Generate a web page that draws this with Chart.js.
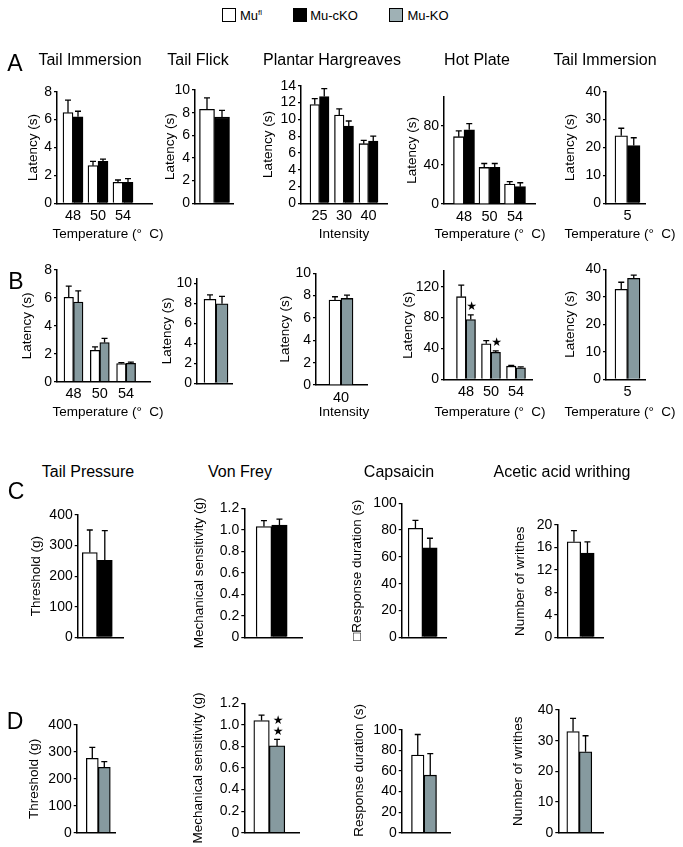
<!DOCTYPE html>
<html>
<head>
<meta charset="utf-8">
<script src="https://cdn.jsdelivr.net/npm/chart.js@4.4.1/dist/chart.umd.min.js"></script>
<style>
  body { margin: 0; background: #fff; font-family: 'Liberation Sans', Arial, sans-serif; }
  #fig { position: relative; width: 683px; height: 847px; overflow: hidden; }
  canvas { position: absolute; }
  .t { position: absolute; white-space: pre; color: #000; transform: translate(-50%, -50%); line-height: 1; }
  .box { position: absolute; width: 14px; height: 14px; box-sizing: border-box; border: 1.3px solid #000; }
</style>
</head>
<body>
<div id="fig"></div>
<script>
// series
const seriesNames = ['Mu', 'Mu-cKO', 'Mu-KO'];
const seriesColors = ['#ffffff', '#000000', '#869a9f'];

// category / tick labels
const tempCats = ['48', '50', '54'];
const intensityCats = ['25', '30', '40'];
const oneTemp = ['5'];
const oneIntensity = ['40'];
const noCat = [''];
const ticks8 = [0, 2, 4, 6, 8];
const ticks10 = [0, 2, 4, 6, 8, 10];
const ticks14 = [0, 2, 4, 6, 8, 10, 12, 14];
const hotTicksA = [0, 40, 80];
const hotTicksB = [0, 40, 80, 120];
const ticks40 = [0, 10, 20, 30, 40];
const ticks400 = [0, 100, 200, 300, 400];
const vfTicks = [0, 0.2, 0.4, 0.6, 0.8, 1.0, 1.2];
const ticks100 = [0, 20, 40, 60, 80, 100];
const writheTicksC = [0, 4, 8, 12, 16, 20];

// A: Mu-fl vs Mu-cKO
const tailImmA_fl = [6.5, 2.7, 1.5];
const tailImmA_flErr = [0.9, 0.3, 0.17];
const tailImmA_cko = [6.2, 3.0, 1.5];
const tailImmA_ckoErr = [0.4, 0.17, 0.27];
const flickA_fl = [8.3];
const flickA_flErr = [1.0];
const flickA_cko = [7.6];
const flickA_ckoErr = [0.6];
const plantarA_fl = [11.75, 10.5, 7.1];
const plantarA_flErr = [0.7, 0.75, 0.4];
const plantarA_cko = [12.7, 9.2, 7.4];
const plantarA_ckoErr = [0.95, 0.6, 0.6];
const hotA_fl = [69, 37.5, 20.5];
const hotA_flErr = [6, 4, 2.4];
const hotA_cko = [76, 37.5, 17.8];
const hotA_ckoErr = [6.5, 4, 4];
const imm5A_fl = [24.2];
const imm5A_flErr = [2.7];
const imm5A_cko = [20.7];
const imm5A_ckoErr = [2.8];

// B: Mu-fl vs Mu-KO
const tailImmB_fl = [6.05, 2.25, 1.3];
const tailImmB_flErr = [0.8, 0.25, 0.07];
const tailImmB_ko = [5.7, 2.8, 1.32];
const tailImmB_koErr = [0.8, 0.3, 0.08];
const flickB_fl = [8.4];
const flickB_flErr = [0.45];
const flickB_ko = [7.95];
const flickB_koErr = [0.75];
const plantarB_fl = [7.6];
const plantarB_flErr = [0.3];
const plantarB_ko = [7.75];
const plantarB_koErr = [0.3];
const hotB_fl = [107, 46, 17];
const hotB_flErr = [15, 4, 1];
const hotB_ko = [77.5, 35, 15];
const hotB_koErr = [6, 1.7, 1];
const hotB_koStars = [1, 1, 0];
const imm5B_fl = [32.7];
const imm5B_flErr = [2.6];
const imm5B_ko = [36.7];
const imm5B_koErr = [1.2];

// C: Mu-fl vs Mu-cKO
const pressC_fl = [277];
const pressC_flErr = [74];
const pressC_cko = [252];
const pressC_ckoErr = [97];
const vfC_fl = [1.03];
const vfC_flErr = [0.055];
const vfC_cko = [1.045];
const vfC_ckoErr = [0.055];
const capsC_fl = [81.3];
const capsC_flErr = [6];
const capsC_cko = [66.7];
const capsC_ckoErr = [7.2];
const writheC_fl = [17];
const writheC_flErr = [2];
const writheC_cko = [15];
const writheC_ckoErr = [2];

// D: Mu-fl vs Mu-KO
const pressD_fl = [276];
const pressD_flErr = [41];
const pressD_ko = [243];
const pressD_koErr = [21];
const vfD_fl = [1.04];
const vfD_flErr = [0.05];
const vfD_ko = [0.805];
const vfD_koErr = [0.06];
const vfD_koStars = [2];
const capsD_fl = [75.6];
const capsD_flErr = [20];
const capsD_ko = [56];
const capsD_koErr = [21];
const writheD_fl = [33];
const writheD_flErr = [4.3];
const writheD_ko = [26.4];
const writheD_koErr = [5.2];

const LAT = 'Latency (s)';
// g: [axisX, axisRight, topY, zeroY, firstGroupX, groupSpacing, barWidth, yTitleOffset, yTitleDy]
const panels = [
  { cats: tempCats, sets: [[tailImmA_fl, tailImmA_flErr, 0], [tailImmA_cko, tailImmA_ckoErr, 1]], yMax: 8, yTicks: ticks8, yTitle: LAT, g: [57, 152, 91.7, 203.3, 73, 25, 10, 24] },
  { cats: noCat, sets: [[flickA_fl, flickA_flErr, 0], [flickA_cko, flickA_ckoErr, 1]], yMax: 10, yTicks: ticks10, yTitle: LAT, g: [195, 233, 90, 203.3, 214.5, 20, 15, 25] },
  { cats: intensityCats, sets: [[plantarA_fl, plantarA_flErr, 0], [plantarA_cko, plantarA_ckoErr, 1]], yMax: 14, yTicks: ticks14, yTitle: LAT, g: [301, 387, 85.7, 203.3, 319.5, 24.5, 9.5, 33] },
  { cats: tempCats, sets: [[hotA_fl, hotA_flErr, 0], [hotA_cko, hotA_ckoErr, 1]], yMax: 110, yTicks: hotTicksA, yTitle: LAT, g: [444, 535, 96.7, 204, 464, 25.5, 10.5, 32] },
  { cats: oneTemp, sets: [[imm5A_fl, imm5A_flErr, 0], [imm5A_cko, imm5A_ckoErr, 1]], yMax: 40, yTicks: ticks40, yTitle: LAT, g: [606, 645, 91.7, 203.3, 627.5, 20, 12.5, 36] },

  { cats: tempCats, sets: [[tailImmB_fl, tailImmB_flErr, 0], [tailImmB_ko, tailImmB_koErr, 2]], yMax: 8, yTicks: ticks8, yTitle: LAT, g: [57, 150, 270, 381.7, 73.5, 26.3, 9.5, 30] },
  { cats: noCat, sets: [[flickB_fl, flickB_flErr, 0], [flickB_ko, flickB_koErr, 2]], yMax: 10.5, yTicks: ticks10, yTitle: LAT, g: [197, 232, 278.3, 383.3, 216, 20, 12, 30] },
  { cats: oneIntensity, sets: [[plantarB_fl, plantarB_flErr, 0], [plantarB_ko, plantarB_koErr, 2]], yMax: 10, yTicks: ticks10, yTitle: LAT, g: [316, 367, 273.3, 385, 341, 20, 12, 31] },
  { cats: tempCats, sets: [[hotB_fl, hotB_flErr, 0], [hotB_ko, hotB_koErr, 2, hotB_koStars]], yMax: 140, yTicks: hotTicksB, yTitle: LAT, g: [444, 532, 271.2, 379.3, 466, 25, 9.5, 36] },
  { cats: oneTemp, sets: [[imm5B_fl, imm5B_flErr, 0], [imm5B_ko, imm5B_koErr, 2]], yMax: 40, yTicks: ticks40, yTitle: LAT, g: [606, 645, 269.3, 379.3, 627.5, 20, 12.5, 36] },

  { cats: noCat, sets: [[pressC_fl, pressC_flErr, 0], [pressC_cko, pressC_ckoErr, 1]], yMax: 400, yTicks: ticks400, yTitle: 'Threshold (g)', g: [77.7, 123.3, 515, 637.3, 97.3, 20, 15, 41] },
  { cats: noCat, sets: [[vfC_fl, vfC_flErr, 0], [vfC_cko, vfC_ckoErr, 1]], yMax: 1.2, yTicks: vfTicks, dec: 1, yTitle: 'Mechanical sensitivity (g)', g: [244.3, 302, 508.3, 637.3, 271.7, 20, 15.5, 45] },
  { cats: noCat, sets: [[capsC_fl, capsC_flErr, 0], [capsC_cko, capsC_ckoErr, 1]], yMax: 100, yTicks: ticks100, yTitle: '\u25a1Response duration (s)', g: [401.7, 446, 503.3, 637.3, 422.7, 20, 14.5, 44] },
  { cats: noCat, sets: [[writheC_fl, writheC_flErr, 0], [writheC_cko, writheC_ckoErr, 1]], yMax: 20, yTicks: writheTicksC, yTitle: 'Number of writhes', g: [557.3, 603.3, 525, 637.3, 580.7, 20, 13.5, 37] },

  { cats: noCat, sets: [[pressD_fl, pressD_flErr, 0], [pressD_ko, pressD_koErr, 2]], yMax: 400, yTicks: ticks400, yTitle: 'Threshold (g)', g: [76.7, 115, 725, 832.7, 98.3, 20, 12, 42] },
  { cats: noCat, sets: [[vfD_fl, vfD_flErr, 0], [vfD_ko, vfD_koErr, 2, vfD_koStars]], yMax: 1.2, yTicks: vfTicks, dec: 1, yTitle: 'Mechanical sensitivity (g)', g: [244.3, 299.3, 703.3, 832.7, 269.3, 20, 15.5, 46] },
  { cats: noCat, sets: [[capsD_fl, capsD_flErr, 0], [capsD_ko, capsD_koErr, 2]], yMax: 100, yTicks: ticks100, yTitle: 'Response duration (s)', g: [401.7, 450, 730, 832.7, 424, 20, 12.5, 42, -11] },
  { cats: noCat, sets: [[writheD_fl, writheD_flErr, 0], [writheD_ko, writheD_koErr, 2]], yMax: 40, yTicks: ticks40, yTitle: 'Number of writhes', g: [558.3, 603.3, 710, 832.7, 579.3, 20, 12.5, 40] },
];

const FONT = "'Liberation Sans', Arial, sans-serif";
Chart.defaults.font.family = FONT;
Chart.defaults.color = '#000';

const fig = document.getElementById('fig');

function txt(s, x, y, size) {
  const d = document.createElement('div');
  d.className = 't';
  d.textContent = s;
  d.style.left = x + 'px';
  d.style.top = y + 'px';
  d.style.fontSize = size + 'px';
  fig.appendChild(d);
  return d;
}

// error bars, stars and y titles
const extras = {
  id: 'extras',
  afterDatasetsDraw(chart) {
    const { ctx } = chart;
    const y = chart.scales.y;
    ctx.save();
    ctx.strokeStyle = '#000';
    ctx.fillStyle = '#000';
    ctx.lineWidth = 1.3;
    chart.data.datasets.forEach((ds, di) => {
      chart.getDatasetMeta(di).data.forEach((bar, i) => {
        const top = y.getPixelForValue(ds.data[i].y + ds.errs[i]);
        ctx.beginPath();
        ctx.moveTo(bar.x, bar.y);
        ctx.lineTo(bar.x, top);
        ctx.moveTo(bar.x - 3, top);
        ctx.lineTo(bar.x + 3, top);
        ctx.stroke();
        const n = ds.stars ? ds.stars[i] : 0;
        ctx.font = '12px "DejaVu Sans"';
        ctx.textAlign = 'center';
        ctx.textBaseline = 'middle';
        for (let k = 0; k < n; k++) ctx.fillText('\u2605', bar.x + 1, top - 8 - k * 11);
      });
    });
    ctx.restore();
  },
  afterDraw(chart, args, opts) {
    const { ctx, chartArea } = chart;
    ctx.save();
    ctx.translate(chartArea.left - opts.off, (chartArea.top + chartArea.bottom) / 2 + (opts.dy || 0));
    ctx.rotate(-Math.PI / 2);
    ctx.font = '13.5px ' + FONT;
    ctx.fillStyle = '#000';
    ctx.textAlign = 'center';
    ctx.textBaseline = 'middle';
    ctx.fillText(opts.text, 0, 0);
    ctx.restore();
  }
};

panels.forEach(p => {
  const [ax, rx, ty, by, c0, sp, bw, yoff, ydy] = p.g;
  const left = Math.floor(ax - (yoff + 12));
  const top = Math.floor(ty - 28);
  const YW = ax - left;
  const PT = ty - top;
  const w = Math.ceil(YW + (rx - ax) + 4);
  const h = Math.ceil(PT + (by - ty) + 26);
  const PR = w - YW - (rx - ax);
  const XH = h - PT - (by - ty);
  const xmin = -(c0 - ax) / sp;
  const xmax = xmin + (rx - ax) / sp;

  const cv = document.createElement('canvas');
  cv.width = w;
  cv.height = h;
  cv.style.left = left + 'px';
  cv.style.top = top + 'px';
  fig.appendChild(cv);

  new Chart(cv, {
    type: 'bar',
    data: {
      datasets: p.sets.map(([vals, errs, ci, stars]) => ({
        label: seriesNames[ci],
        data: vals.map((v, i) => ({ x: i, y: v })),
        errs: errs,
        stars: stars,
        backgroundColor: seriesColors[ci],
        borderColor: '#000',
        borderWidth: 1.3,
        barThickness: bw,
      })),
    },
    options: {
      responsive: false,
      animation: false,
      devicePixelRatio: 1,
      layout: { padding: { top: PT, right: PR, left: 0, bottom: 0 } },
      plugins: {
        legend: { display: false },
        tooltip: { enabled: false },
        extras: { text: p.yTitle, off: yoff, dy: ydy || 0 },
      },
      scales: {
        x: {
          type: 'linear',
          min: xmin,
          max: xmax,
          offset: false,
          grid: { display: false, drawTicks: false },
          border: { display: true, color: '#000', width: 1.5 },
          ticks: {
            color: '#000', font: { size: 14.5 }, padding: 4, autoSkip: false, maxRotation: 0,
            callback: v => p.cats[v] !== undefined ? p.cats[v] : '',
          },
          afterBuildTicks: s => { s.ticks = p.cats.map((c, i) => ({ value: i })); },
          afterFit: s => { s.height = XH; },
        },
        y: {
          min: 0,
          max: p.yMax,
          grid: { drawOnChartArea: false, drawTicks: true, tickLength: 3, color: '#000', lineWidth: 1.2 },
          border: { display: true, color: '#000', width: 1.5 },
          ticks: {
            color: '#000', font: { size: 14 }, padding: 2, autoSkip: false,
            callback: v => (p.dec && v !== 0) ? v.toFixed(p.dec) : String(v),
          },
          afterBuildTicks: s => { s.ticks = p.yTicks.map(v => ({ value: v })); },
          afterFit: s => { s.width = YW; },
        },
      },
    },
    plugins: [extras],
  });
});

// legend
[[222, 0], [293, 1], [389, 2]].forEach(([x, ci]) => {
  const b = document.createElement('div');
  b.className = 'box';
  b.style.left = x + 'px';
  b.style.top = '8px';
  b.style.background = ci === 2 ? '#9fb1b5' : seriesColors[ci];
  fig.appendChild(b);
});
const lg0 = txt('', 251, 15, 13);
lg0.innerHTML = 'Mu<sup style="font-size:8px;vertical-align:5px">fl</sup>';
txt(seriesNames[1], 334, 15, 13);
txt(seriesNames[2], 428, 15, 13);

// panel letters
txt('A', 15, 63, 23);
txt('B', 16, 281, 23);
txt('C', 16, 491, 23);
txt('D', 15, 721, 23);

// titles
txt('Tail Immersion', 90, 60, 16);
txt('Tail Flick', 198, 60, 16);
txt('Plantar Hargreaves', 332, 60, 16);
txt('Hot Plate', 477, 60, 16);
txt('Tail Immersion', 605, 60, 16);
txt('Tail Pressure', 88, 472, 16);
txt('Von Frey', 240, 472, 16);
txt('Capsaicin', 399, 472, 16);
txt('Acetic acid writhing', 562, 472, 16);

// x titles
const TEMP = 'Temperature (\u00b0  C)';
[234, 412].forEach(yy => {
  txt(TEMP, 108, yy, 13.5);
  txt('Intensity', 344, yy, 13.5);
  txt(TEMP, 490, yy, 13.5);
  txt(TEMP, 620, yy, 13.5);
});
</script>
</body>
</html>
